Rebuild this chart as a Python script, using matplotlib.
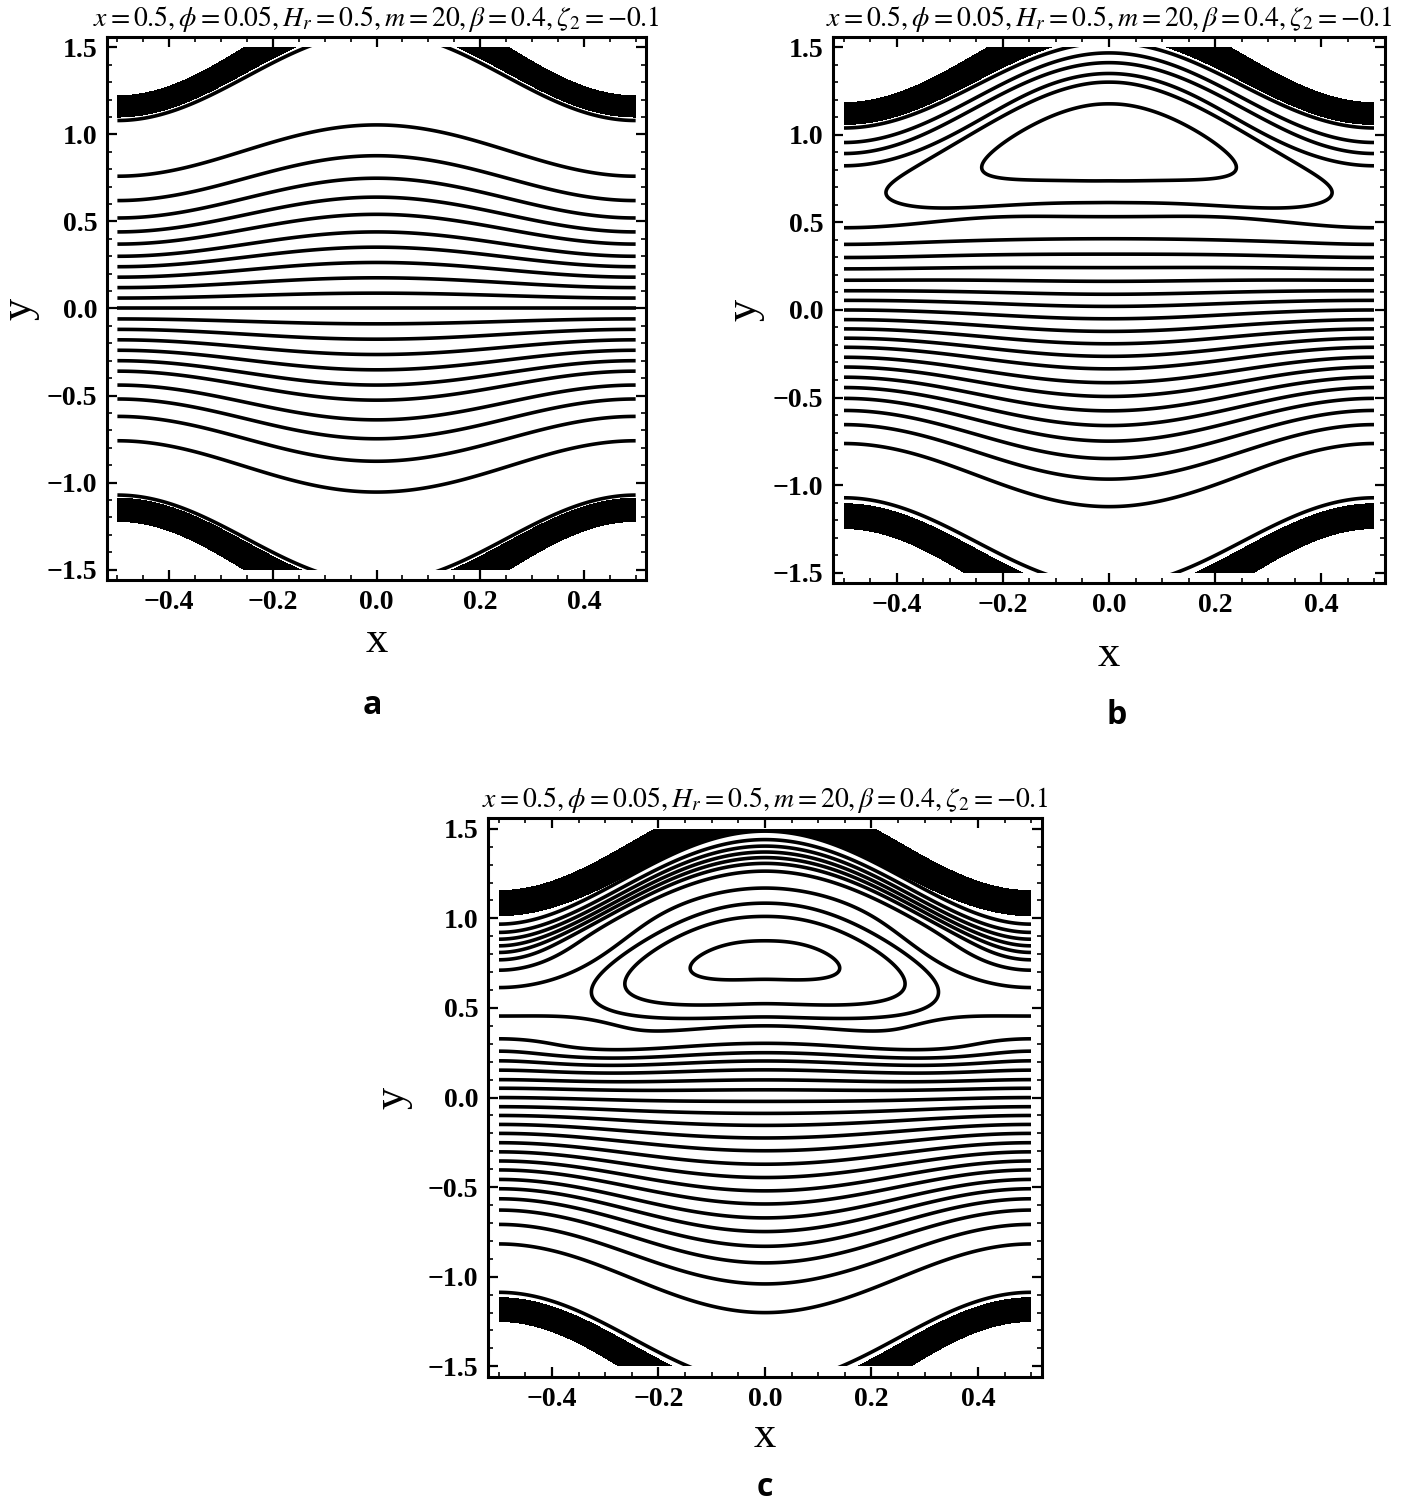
import numpy as np
import matplotlib
matplotlib.use("Agg")
import matplotlib.pyplot as plt
from matplotlib.patches import Rectangle
from matplotlib.ticker import MultipleLocator

plt.rcParams["mathtext.fontset"] = "stix"

TITLE = r"$x = 0.5, \phi = 0.05, H_r = 0.5, m = 20, \beta = 0.4, \zeta_2 = -0.1$"
WALL_AMP = 0.19
LW = 2.6

# heights at which the open streamlines meet the ends x = -0.5 / 0.5
edge_y_a = [0.76, 0.62, 0.52, 0.44, 0.37, 0.30, 0.24, 0.18, 0.12, 0.06, 0.0,
            -0.06, -0.12, -0.18, -0.24, -0.30, -0.36, -0.44, -0.52, -0.62, -0.76]
edge_y_b = [0.957, 0.894, 0.824,
            0.47, 0.375, 0.30, 0.235, 0.17, 0.11, 0.055, 0.0, -0.055, -0.108,
            -0.161, -0.213, -0.27, -0.326, -0.384, -0.443, -0.505, -0.574,
            -0.655, -0.763]
edge_y_c = [0.968, 0.922, 0.884, 0.847, 0.81, 0.769, 0.711, 0.614,
            0.455, 0.328, 0.259, 0.205, 0.153, 0.10, 0.052, 0.0, -0.051, -0.10,
            -0.15, -0.20, -0.252, -0.303, -0.354, -0.404, -0.457, -0.509,
            -0.565, -0.628, -0.708, -0.817]

# lower edge of each closed eddy loop on x = 0
loop_y_b = [0.614, 0.738]
loop_y_c = [0.45, 0.524, 0.66]

# wall bands at x = +-0.5: (single streamline, band inner edge, band outer edge)
walls_a = [(1.08, 1.10, 1.222), (-1.072, -1.09, -1.223)]
walls_b = [(1.04, 1.06, 1.185), (-1.073, -1.107, -1.249)]
walls_c = [(None, 1.015, 1.155), (-1.087, -1.117, -1.25)]

# panel a: streamlines near the walls flatten a little on x = 0
flatten_a = [(0.06, 1.0, 0.3), (-0.06, -1.0, 0.3)]

# panels b, c: the eddy spreads the streamlines apart on x = 0
# strength, eddy height, ramp width, (flat part, decay length) below / above
spread_b = dict(A=0.21, eta_m=0.79, tau=0.45, low=(0.365, 0.30), high=(0.35, 0.086))
spread_c = dict(A=0.40, eta_m=0.672, tau=0.47, low=(0.345, 0.115), high=(0.341, 0.13))

# eddy loop shape: centre height, vertical and horizontal widths, horizontal exponent
eddy_b = dict(eta_c=0.805, s_eta=0.2, sx=0.236, q=1.456)
eddy_c = dict(eta_c=0.645, s_eta=0.2, sx=0.23, q=2.25)


def wall_shape(x):
    return 1 + WALL_AMP * np.cos(2 * np.pi * x)


def centre_shift(eta, flatten=None, spread=None):
    q = np.zeros_like(eta)
    for amount, centre, width in flatten or []:
        q = q + amount * np.exp(-((eta - centre) / width) ** 2)
    if spread:
        d = eta - spread["eta_m"]
        flat = np.where(d < 0, spread["low"][0], spread["high"][0])
        decay = np.where(d < 0, spread["low"][1], spread["high"][1])
        excess = 0.02 * np.logaddexp(0.0, (np.abs(d) - flat) / 0.02)
        q = q - spread["A"] * np.tanh(d / spread["tau"]) * np.exp(-excess / decay)
    return q


def open_stream(x, eta, flatten=None, spread=None, sharp=2):
    w = 1 - np.abs(np.sin(np.pi * x)) ** sharp
    return eta + w * centre_shift(eta, flatten, spread)


def eddy_field(x, eta, p):
    soft = 0.03
    u = (np.sqrt(x ** 2 + soft ** 2) - soft) / p["sx"]
    return np.exp(-u ** p["q"] - ((eta - p["eta_c"]) / p["s_eta"]) ** 2)


def draw_panel(ax, edge_y, walls, flatten=None, spread=None, sharp=2, loops=None, eddy=None):
    x = np.linspace(-0.5, 0.5, 601)
    eta = np.linspace(-1.7, 1.7, 1701)
    X, E = np.meshgrid(x, eta)
    Y = E * wall_shape(X)
    end = wall_shape(0.5)
    line_kw = dict(colors="k", linewidths=LW, linestyles="solid")

    levels = np.sort(np.asarray(edge_y) / end)
    psi = open_stream(X, E, flatten, spread, sharp)
    sets = [ax.contour(X, Y, psi, levels=levels, **line_kw)]

    if loops:
        loop_eta = np.asarray(loops) / wall_shape(0.0)
        loop_levels = np.sort(eddy_field(0.0, loop_eta, eddy))
        sets.append(ax.contour(X, Y, eddy_field(X, E, eddy), levels=loop_levels, **line_kw))

    for single, inner, outer in walls:
        band = sorted([inner / end, outer / end])
        sets.append(ax.contourf(X, Y, E, levels=band, colors="k"))
        if single is not None:
            sets.append(ax.contour(X, Y, E, levels=[single / end], **line_kw))

    clip = Rectangle((-0.5, -1.5), 1.0, 3.0, transform=ax.transData,
                     fc="none", ec="none")
    for cs in sets:
        cs.set_clip_path(clip)


def style_axes(ax, ylabel_x, xlabel_y):
    ax.set_xlim(-0.52, 0.52)
    ax.set_ylim(-1.56, 1.56)
    ax.set_xticks([-0.4, -0.2, 0.0, 0.2, 0.4])
    ax.set_yticks([-1.5, -1.0, -0.5, 0.0, 0.5, 1.0, 1.5])
    ax.xaxis.set_minor_locator(MultipleLocator(0.05))
    ax.yaxis.set_minor_locator(MultipleLocator(0.1))
    ax.tick_params(which="both", direction="in", top=True, right=True)
    ax.tick_params(which="major", length=7, width=1.6, labelsize=20, pad=7)
    ax.tick_params(which="minor", length=3.5, width=1.2)
    for lab in ax.get_xticklabels() + ax.get_yticklabels():
        lab.set_fontfamily("Liberation Serif")
        lab.set_fontweight("bold")
    for sp in ax.spines.values():
        sp.set_linewidth(2.2)

    ax.set_xlabel("x", fontsize=32, family="Liberation Serif")
    ax.set_ylabel("y", fontsize=32, family="Liberation Serif")
    ax.xaxis.set_label_coords(0.5, xlabel_y)
    ax.yaxis.set_label_coords(ylabel_x, 0.5)
    ax.set_title(TITLE, fontsize=20, pad=8)


fig = plt.figure(figsize=(14.01, 15.03), dpi=100)

ax_a = fig.add_axes([0.0764, 0.6141, 0.3847, 0.3613])
draw_panel(ax_a, edge_y_a, walls_a, flatten=flatten_a)
style_axes(ax_a, -0.125, -0.075)

ax_b = fig.add_axes([0.5946, 0.6121, 0.3940, 0.3633])
draw_panel(ax_b, edge_y_b, walls_b, spread=spread_b, loops=loop_y_b, eddy=eddy_b)
style_axes(ax_b, -0.125, -0.095)

ax_c = fig.add_axes([0.3483, 0.0838, 0.3954, 0.3719])
draw_panel(ax_c, edge_y_c, walls_c, spread=spread_c, sharp=5, loops=loop_y_c, eddy=eddy_c)
style_axes(ax_c, -0.137, -0.07)

for letter, fx, fy in [("a", 372, 706), ("b", 1117, 716), ("c", 765, 1488)]:
    fig.text(fx / 1401, 1 - fy / 1503, letter, ha="center", va="center",
             fontsize=23, fontweight="bold", family="Open Sans")

fig.savefig("out.png", dpi=100)
